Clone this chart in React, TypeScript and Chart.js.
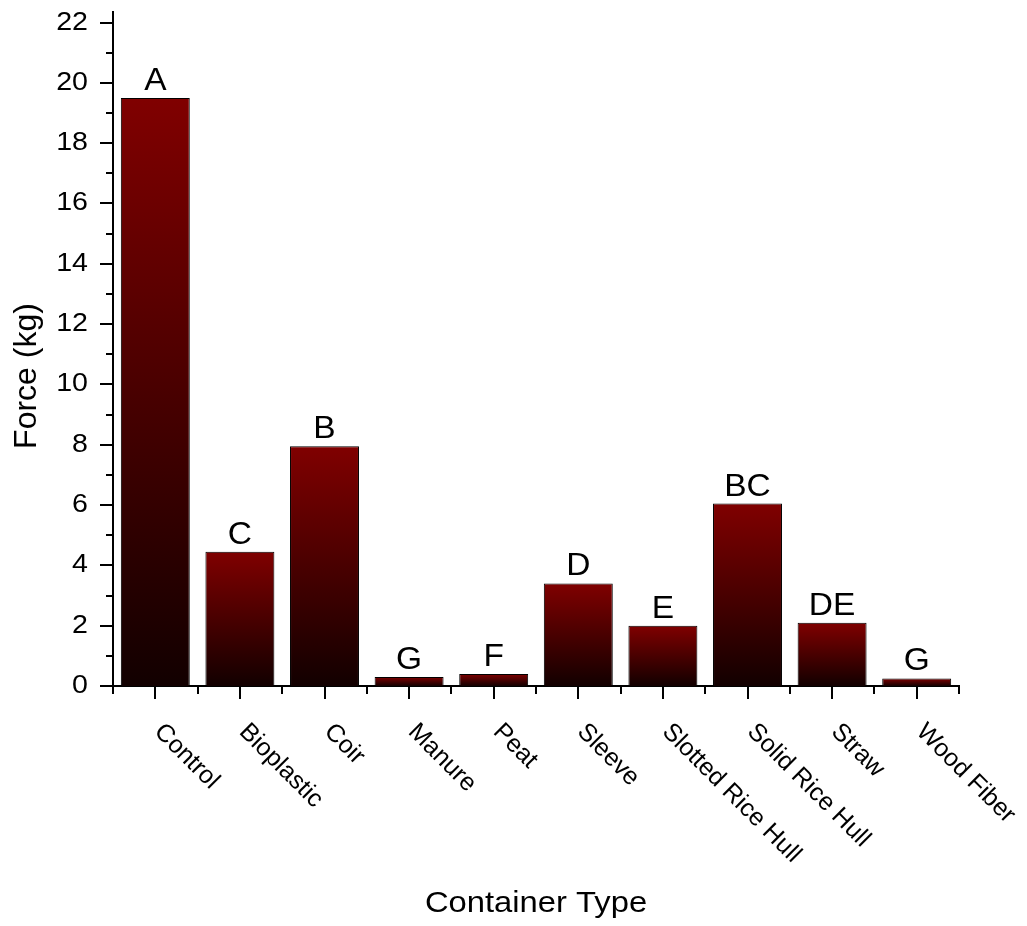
import React, { useEffect, useRef } from "react";
import { Chart, registerables } from "chart.js";

Chart.register(...registerables);

const categories = [
  "Control",
  "Bioplastic",
  "Coir",
  "Manure",
  "Peat",
  "Sleeve",
  "Slotted Rice Hull",
  "Solid Rice Hull",
  "Straw",
  "Wood Fiber",
];
const forceValues = [19.5, 4.45, 7.95, 0.3, 0.4, 3.4, 2.0, 6.05, 2.1, 0.25];
const groupLetters = ["A", "C", "B", "G", "F", "D", "E", "BC", "DE", "G"];
const yTickValues = [0, 1, 2, 3, 4, 5, 6, 7, 8, 9, 10, 11, 12, 13, 14, 15, 16, 17, 18, 19, 20, 21, 22];
const yLabeledTicks = [0, 2, 4, 6, 8, 10, 12, 14, 16, 18, 20, 22];
const yAxisTitle = "Force (kg)";
const xAxisTitle = "Container Type";

const FONT = '"Liberation Sans", Arial, sans-serif';

function drawText(
  ctx: CanvasRenderingContext2D,
  text: string,
  x: number,
  y: number,
  size: number,
  align: CanvasTextAlign,
  baseline: CanvasTextBaseline,
  stretch = 1,
  rotation = 0
) {
  ctx.save();
  ctx.translate(x, y);
  if (rotation) ctx.rotate(rotation);
  ctx.scale(stretch, 1);
  ctx.font = `${size}px ${FONT}`;
  ctx.fillStyle = "#000";
  ctx.textAlign = align;
  ctx.textBaseline = baseline;
  ctx.fillText(text, 0, 0);
  ctx.restore();
}

const overlayPlugin = {
  id: "overlay",
  afterDraw(chart: any) {
    const { ctx, chartArea, scales } = chart;
    const x = scales.x;
    const y = scales.y;
    ctx.save();
    ctx.strokeStyle = "#000";
    ctx.lineWidth = 2;
    ctx.lineCap = "butt";
    // y ticks
    y.ticks.forEach((t: any) => {
      const py = Math.round(y.getPixelForValue(t.value));
      const major = yLabeledTicks.includes(t.value);
      const len = major ? 13 : 7;
      ctx.beginPath();
      ctx.moveTo(chartArea.left - len, py);
      ctx.lineTo(chartArea.left, py);
      ctx.stroke();
      if (major) {
        drawText(ctx, String(t.value), chartArea.left - 25, py, 26, "right", "middle", 1.1);
      }
    });
    // x ticks
    categories.forEach((c, i) => {
      const cx = Math.round(x.getPixelForValue(i));
      ctx.beginPath();
      ctx.moveTo(cx, chartArea.bottom);
      ctx.lineTo(cx, chartArea.bottom + 13);
      ctx.stroke();
      const b0 = Math.round(x.getPixelForValue(i - 0.5));
      ctx.beginPath();
      ctx.moveTo(b0, chartArea.bottom);
      ctx.lineTo(b0, chartArea.bottom + 8);
      ctx.stroke();
      if (i === categories.length - 1) {
        const b1 = Math.round(x.getPixelForValue(i + 0.5));
        ctx.beginPath();
        ctx.moveTo(b1, chartArea.bottom);
        ctx.lineTo(b1, chartArea.bottom + 8);
        ctx.stroke();
      }
      drawText(ctx, c, cx + 3, chartArea.bottom + 42, 25, "left", "middle", 1, Math.PI / 4);
      // letters
      const top = y.getPixelForValue(forceValues[i]);
      drawText(ctx, groupLetters[i], x.getPixelForValue(i), top - 8, 31, "center", "alphabetic", 1.08);
    });
    // titles
    drawText(ctx, yAxisTitle, 36, 376, 32, "center", "alphabetic", 1, -Math.PI / 2);
    drawText(ctx, xAxisTitle, (chartArea.left + chartArea.right) / 2, 912, 29, "center", "alphabetic", 1.13);
    ctx.restore();
  },
};

function barGradient(context: any) {
  const chart = context.chart;
  const { chartArea, scales } = chart;
  if (!chartArea || !scales.y || context.type !== "data") return "#800000";
  const v = forceValues[context.dataIndex];
  const yTop = scales.y.getPixelForValue(v);
  const yBot = scales.y.getPixelForValue(0);
  const g = chart.ctx.createLinearGradient(0, yTop, 0, yBot);
  g.addColorStop(0, "#800000");
  g.addColorStop(1, "#120000");
  return g;
}

export default function App() {
  const ref = useRef<HTMLCanvasElement>(null);
  useEffect(() => {
    if (!ref.current) return;
    const chart = new Chart(ref.current, {
      type: "bar",
      data: {
        labels: categories,
        datasets: [
          {
            data: forceValues,
            backgroundColor: barGradient,
            borderColor: "#000",
            borderWidth: 1,
            barPercentage: 0.815,
            categoryPercentage: 1,
          },
        ],
      },
      options: {
        responsive: false,
        animation: false,
        devicePixelRatio: 1,
        layout: { padding: { left: 113, right: 68, top: 12, bottom: 240 } },
        plugins: { legend: { display: false }, tooltip: { enabled: false } },
        scales: {
          x: {
            type: "category",
            offset: true,
            grid: { display: false, drawTicks: false },
            ticks: { display: false },
            border: { display: true, color: "#000", width: 2 },
          },
          y: {
            type: "linear",
            min: 0,
            max: 22.35,
            afterBuildTicks: (scale: any) => {
              scale.ticks = yTickValues.map((v) => ({ value: v }));
            },
            grid: { display: false, drawTicks: false },
            ticks: { display: false },
            border: { display: true, color: "#000", width: 2 },
          },
        },
      },
      plugins: [overlayPlugin],
    } as any);
    return () => chart.destroy();
  }, []);
  return (
    <div style={{ position: "absolute", left: 0, top: 0, width: 1027, height: 926, background: "#fff" }}>
      <canvas ref={ref} width={1027} height={926} style={{ width: 1027, height: 926, display: "block" }} />
    </div>
  );
}
